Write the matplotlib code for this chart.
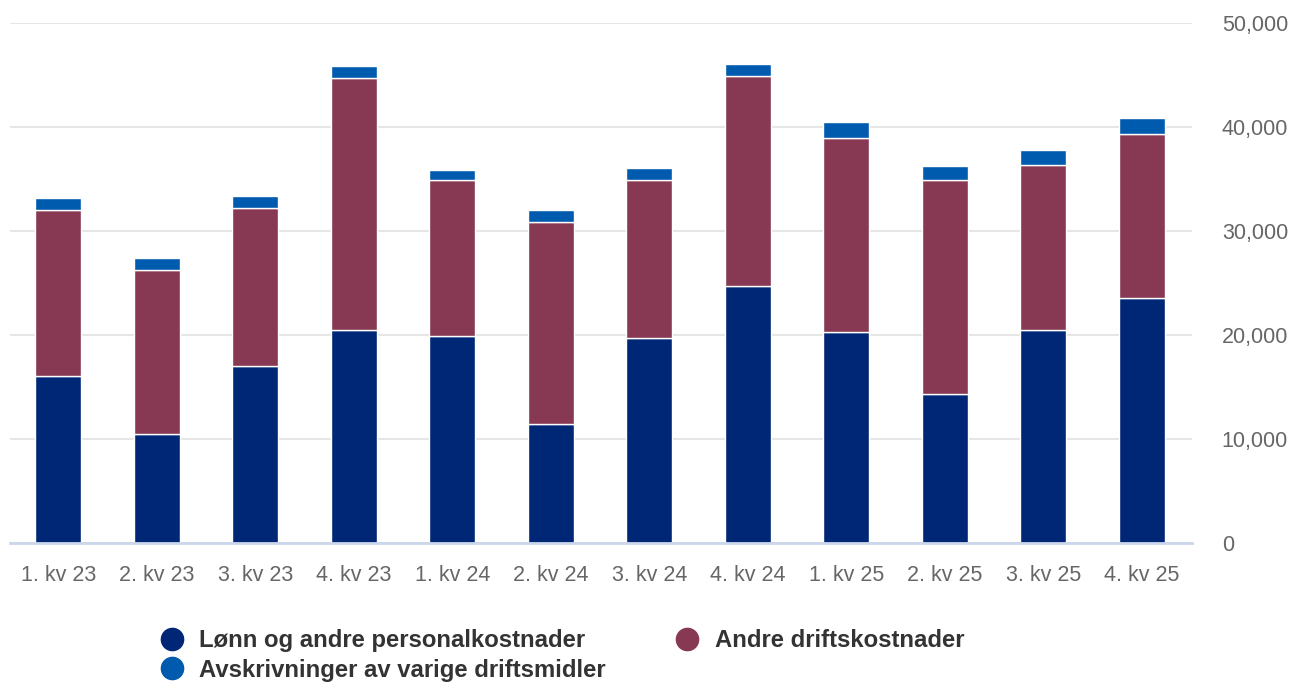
import numpy as np
import matplotlib
matplotlib.use("Agg")
import matplotlib.pyplot as plt
from matplotlib.lines import Line2D

plt.rcParams['font.family'] = ['Liberation Sans', 'DejaVu Sans']

# kvartaler
kvartaler = ['1. kv 23', '2. kv 23', '3. kv 23', '4. kv 23',
             '1. kv 24', '2. kv 24', '3. kv 24', '4. kv 24',
             '1. kv 25', '2. kv 25', '3. kv 25', '4. kv 25']

# verdier lest av figuren (segmenter)
lonn = [16060, 10480, 17050, 20480, 19900, 11440, 19710, 24740, 20290, 14360, 20480, 23560]
andre = [15940, 15800, 15160, 24260, 15040, 19460, 15230, 20200, 18680, 20580, 15830, 15800]
avskr = [1200, 1120, 1155, 1160, 930, 1120, 1120, 1120, 1510, 1340, 1510, 1540]

navn = ['Lønn og andre personalkostnader', 'Andre driftskostnader',
        'Avskrivninger av varige driftsmidler']
farger = ['#002776', '#873852', '#005aae']

W, H = 1293, 684
fig = plt.figure(figsize=(W / 100, H / 100), dpi=100)
ax = fig.add_axes([10 / W, 1 - 543 / H, (1192 - 10) / W, (543 - 23) / H])

x = np.arange(len(kvartaler))
bredde = 0.47
bunn = np.zeros(len(x))
for verdier, farge in zip([lonn, andre, avskr], farger):
    ax.bar(x, verdier, bredde, bottom=bunn, color=farge,
           edgecolor='white', linewidth=1, zorder=3)
    bunn += np.array(verdier)

ax.set_xlim(-0.49, 11.51)
ax.set_ylim(0, 50000)
ax.set_yticks(np.arange(0, 50001, 10000))
ax.yaxis.tick_right()
ax.set_yticklabels([f'{v:,}' for v in range(0, 50001, 10000)])
ax.grid(axis='y', color='#e6e6e6', linewidth=1.5, zorder=0)
ax.set_xticks(x)
ax.set_xticklabels(kvartaler)
ax.tick_params(axis='both', length=0, labelsize=15.5, labelcolor='#666666')
ax.tick_params(axis='y', pad=21.5)
ax.tick_params(axis='x', pad=16)
for side in ['top', 'right', 'left']:
    ax.spines[side].set_visible(False)
ax.spines['bottom'].set_color('#ccd6eb')
ax.spines['bottom'].set_linewidth(2)
ax.spines['bottom'].set_zorder(4)
for lbl in ax.get_yticklabels():
    lbl.set_horizontalalignment('left')

handles = [Line2D([], [], marker='o', linestyle='', markersize=16, color=f) for f in farger]
# rekkefølge slik at to kolonner fylles radvis
order = [0, 2, 1]
fig.legend([handles[i] for i in order], [navn[i] for i in order],
           ncol=2, loc='upper left', bbox_to_anchor=(160 / W, 1 - 629 / H),
           frameon=False, prop={'size': 17.2, 'weight': 'bold'},
           labelcolor='#333333', handletextpad=0.65, columnspacing=2.9,
           handlelength=1.0, labelspacing=0.28, borderpad=0, borderaxespad=0)

fig.savefig('out.png', dpi=100)
